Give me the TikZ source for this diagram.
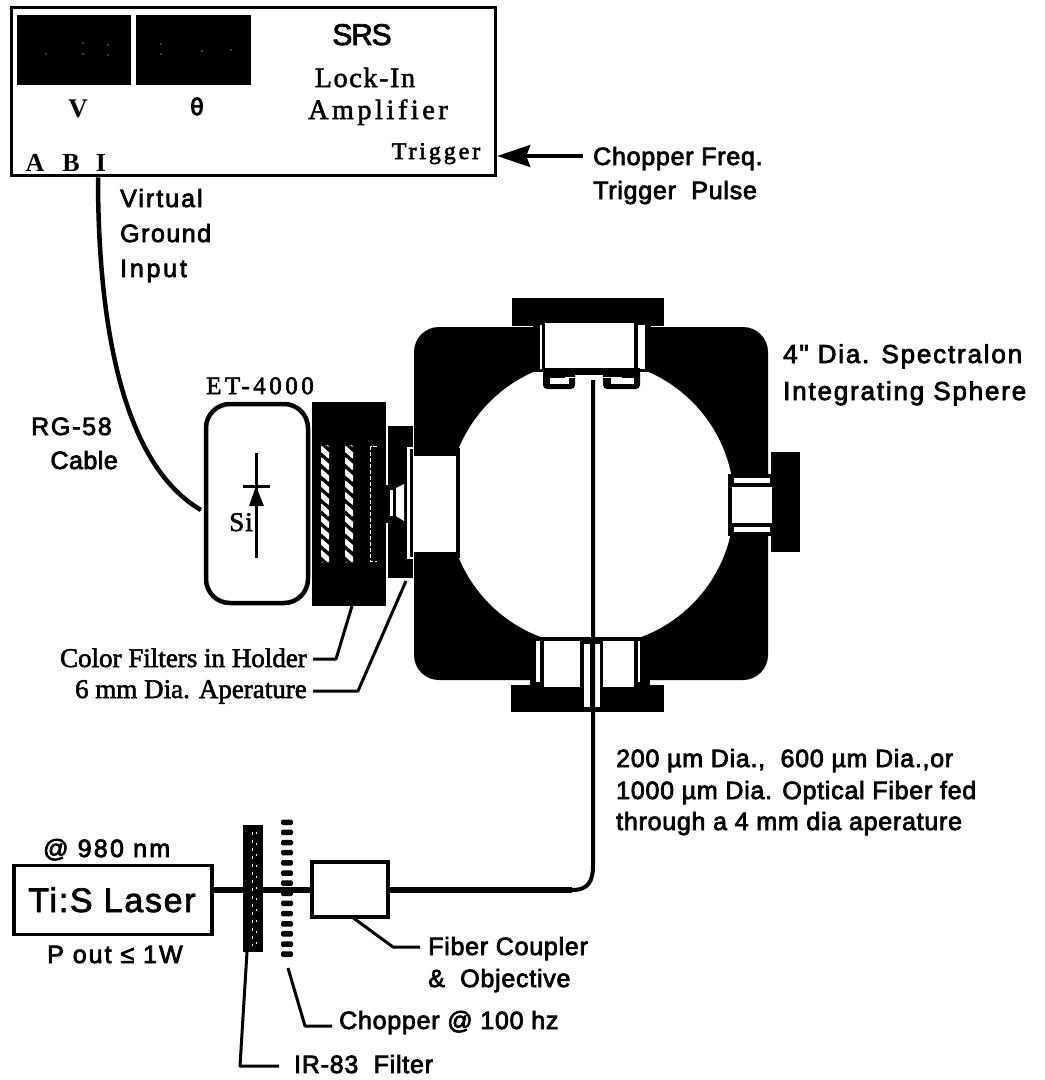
\documentclass[tikz,border=0pt]{standalone}
\usepackage{fontspec}
\setmainfont{Liberation Serif}
\setsansfont{Liberation Sans}
\newfontfamily\lblsans{Liberation Sans}
\newfontfamily\lblserif{Liberation Serif}
\newfontfamily\lblbold{Liberation Serif Bold}
\usetikzlibrary{arrows.meta}
\tikzset{
  ink/.style={fill=black,draw=none},
  hole/.style={fill=white,draw=none},
  heavy/.style={execute at begin node={\special{pdf:code 2 Tr #1 w}},execute at end node={\special{pdf:code 0 Tr}}},
  sanslab/.style 2 args={heavy=0.75,font=\fontsize{#1}{#1}\lblsans\addfontfeature{LetterSpace=#2},inner sep=0pt,anchor=base west},
  seriflab/.style 2 args={heavy=0.55,font=\fontsize{#1}{#1}\lblserif\addfontfeature{LetterSpace=#2},inner sep=0pt,anchor=base},
  boldlab/.style={font=\fontsize{#1}{#1}\lblbold,inner sep=0pt,anchor=base},
  leader/.style={line width=3pt,line join=round},
  boxline/.style={draw=black,line width=3.5pt,fill=white,inner sep=0pt},
  wire/.style={line width=4pt,line join=round},
  beam/.style={line width=6pt},
}
\begin{document}
\begin{tikzpicture}[x=1pt,y=-1pt]
\useasboundingbox (0,0) rectangle (1045,1080);
% ---- lock-in amplifier
\node[boxline,minimum width=484pt,minimum height=168pt] (lockin) at (253.5,91.5) {};
\fill[ink] (17,15) rectangle (131,85);
\fill[ink] (136,15) rectangle (251,85);
\foreach \p/\q in {46/54,83/43,83/54,108/45,108/55,161/44,161/54,202/51,231/50}
  \fill[hole] (\p,\q) circle (0.7);
\node[boldlab=27] (tv) at (78,117) {V};
\node[heavy=0.9,font=\fontsize{24}{24}\lblsans,inner sep=0pt,anchor=base] (ttheta) at (197,115) {θ};
\node[sanslab={30}{-4},anchor=base] (tsrs) at (362,45) {SRS};
\node[seriflab={28}{6}] (tlock) at (365,87) {Lock-In};
\node[seriflab={28}{13}] (tamp) at (378,119) {Amplifier};
\node[seriflab={24}{12}] (ttrig) at (436,159) {Trigger};
\node[boldlab=26] (ta) at (35,171) {A};
\node[boldlab=26] (tb) at (71,171) {B};
\node[boldlab=26] (ti) at (101,171) {I};
% ---- trigger input
\node[sanslab={25}{3}] (tfreq) at (593,165) {Chopper Freq.};
\node[sanslab={25}{3}] (tpulse) at (593,199) {Trigger\ \ Pulse};
\draw[line width=3.5pt,-{Stealth[length=33pt,width=22pt,inset=4pt]}] ([xshift=-10pt]tfreq.west |- 0,156) -- (lockin.east |- 0,156);
% ---- virtual ground labels
\node[sanslab={25}{8}] (tvirt) at (120,207) {Virtual};
\node[sanslab={25}{6}] (tground) at (120,242) {Ground};
\node[sanslab={25}{11}] (tinput) at (120,277) {Input};
\node[sanslab={25}{7},anchor=base east] (trg) at (112,435) {RG-58};
\node[sanslab={25}{2},anchor=base east] (tcable) at (118,469) {Cable};
% ---- sphere
\fill[ink,rounded corners=25pt] (414,327) rectangle (768,680);
\fill[hole] (591,503) circle (143);
% top port
\fill[ink] (512,298) rectangle (664,326);
\fill[ink] (533,326) rectangle (651,372);
\fill[hole] (540,325) rectangle (542,369);
\fill[hole] (638,325) rectangle (645,369);
\fill[hole] (545,323) rectangle (634,369);
\fill[ink] (543,368) rectangle (640,375);
\fill[ink,rounded corners=4pt] (543,370) rectangle (575,389);
\fill[ink,rounded corners=4pt] (603,370) rectangle (640,389);
\fill[hole] (550,377.5) rectangle (569,383.5);
\fill[hole] (611,377.5) rectangle (634,383.5);
\fill[hole] (565,376.5) rectangle (622,378);
% bottom port
\fill[ink] (535,637) rectangle (645,642);
\fill[ink] (530,642) rectangle (650,686);
\fill[ink] (511,685) rectangle (664,712);
\fill[hole] (536,641) rectangle (540,682);
\fill[hole] (544,641) rectangle (580,687);
\fill[hole] (603,641) rectangle (634,687);
\fill[hole] (638,641) rectangle (640,682);
\fill[hole] (584,644) rectangle (590,707);
\fill[hole] (595,644) rectangle (600,707);
% right port
\fill[ink] (771,452) rectangle (800,552);
\fill[ink] (728,474) rectangle (771,536);
\fill[hole] (734,478) rectangle (770,483);
\fill[hole] (734,527) rectangle (770,532);
\fill[hole] (732,487) rectangle (772,523);
% left port and aperture
\fill[ink] (414,448) rectangle (459.5,558);
\fill[ink] (388,426) rectangle (413,578);
\draw[white,line width=2.5pt] (414,448) -- (408.5,448) -- (408.5,558) -- (414,558);
\fill[hole] (413.5,456) rectangle (455.5,552);
\fill[ink] (384,485) rectangle (392,523);
\fill[hole] (390,490) rectangle (393,516);
\fill[hole] (396,488) -- (404,484) -- (404,521) -- (396,516) -- cycle;
% ---- holder with colour filters
\fill[ink] (312,402) rectangle (386,606);
\foreach \xa in {321,345}{
  \begin{scope}
    \clip[rounded corners=2pt] (\xa,445) rectangle ++(8,118);
    \foreach \yb in {436,447.6,...,570}
      \draw[white,line width=5pt] (\xa-1,\yb) -- (\xa+9,\yb+9);
  \end{scope}
}
\draw[white,line width=0.7pt,dash pattern=on 4pt off 2pt] (377,446) -- (370.5,446) -- (370.5,561) -- (377,561);
% ---- detector
\node[boxline,line width=4.5pt,rounded corners=24pt,minimum width=102pt,minimum height=199pt] (det) at (257,503.5) {};
\node[seriflab={25}{14}] (tet) at (260,394) {ET-4000};
\coordinate (dtop) at (256,453);
\coordinate (dbot) at (256,558);
\draw[line width=3pt] (dtop) -- (dbot);
\draw[line width=3pt] (243,486) -- (270,486);
\fill[ink] (256,486) -- (264,506) -- (249,506) -- cycle;
\node[seriflab={27}{4}] (tsi) at (241,531) {Si};
% ---- cable
\coordinate (cableend) at (201,510);
\draw[line width=4.5pt] (lockin.south -| 98,0) .. controls (98,300) and (115,460) .. (cableend);
% ---- filter labels
\node[seriflab={27}{0},anchor=base east] (tcol) at (307,667) {Color Filters in Holder};
\node[seriflab={27}{0},anchor=base east] (tap) at (307,698) {6 mm Dia. Aperature};
\coordinate (holderfoot) at (352,606);
\coordinate (apfoot) at (406,581);
\draw[leader] (holderfoot) -- (336,659) -- ([xshift=6pt]tcol.east |- 0,659);
\draw[leader] (apfoot) -- (358,691) -- ([xshift=6pt]tap.east |- 0,691);
% ---- sphere labels
\node[sanslab={26}{7}] (tdia) at (783,363) {4" Dia. Spectralon};
\node[sanslab={26}{7}] (tint) at (783,400) {Integrating Sphere};
\node[sanslab={25}{3}] (tf1) at (616,767) {200 µm Dia.,\ \ 600 µm Dia.,or};
\node[sanslab={25}{3}] (tf2) at (616,799) {1000 µm Dia. Optical Fiber fed};
\node[sanslab={25}{3}] (tf3) at (616,830) {through a 4 mm dia aperature};
% ---- laser line
\node[boxline,minimum width=198pt,minimum height=69pt] (laser) at (113,900) {};
\node[sanslab={34}{5},anchor=base] (tlaser) at (112,912) {Ti:S Laser};
\node[sanslab={25}{9}] (tnm) at (43,857) {@ 980 nm};
\node[sanslab={25}{8}] (tp) at (47,963) {P out ≤ 1W};
\node[boxline,minimum width=76pt,minimum height=55pt] (coupler) at (350,889.5) {};
\draw[beam] (laser.east |- 0,890) -- (coupler.west |- 0,890);
\fill[ink] (243,825) rectangle (263,952);
\draw[white,line width=0.7pt,dash pattern=on 3pt off 5pt] (252,832) -- (252,946);
\draw[white,line width=0.7pt,dash pattern=on 2pt off 9pt] (256,832) -- (256,946);
\foreach \k in {0,...,13}
  \fill[ink,rounded corners=1.5pt] (281,819.5+10.15*\k) rectangle ++(12,5.5);
\coordinate (topfiber) at (593,380);
\coordinate (fiberbend) at (572,890);
\draw[beam] (coupler.east |- 0,890) -- (fiberbend);
\draw[wire] (fiberbend) .. controls (588,890) and (593,882) .. (593,865) -- (topfiber);
% ---- lower labels
\node[sanslab={25}{3}] (tfib) at (428,955) {Fiber Coupler};
\node[sanslab={25}{3}] (tobj) at (428,987) {\&\ \ Objective};
\node[sanslab={25}{3}] (tchop) at (339,1029) {Chopper @ 100 hz};
\node[sanslab={25}{3}] (tir) at (294,1073) {IR-83\ \ Filter};
\coordinate (couplefoot) at (352,917);
\coordinate (chopfoot) at (288,968);
\coordinate (irfoot) at (247,952);
\draw[leader] (couplefoot) -- (393,947) -- ([xshift=-8pt]tfib.west |- 0,947);
\draw[leader] (chopfoot) -- (305,1026) -- ([xshift=-7pt]tchop.west |- 0,1026);
\draw[leader] (irfoot) -- (240,1066) -- ([xshift=-15pt]tir.west |- 0,1066);
\end{tikzpicture}
\end{document}
